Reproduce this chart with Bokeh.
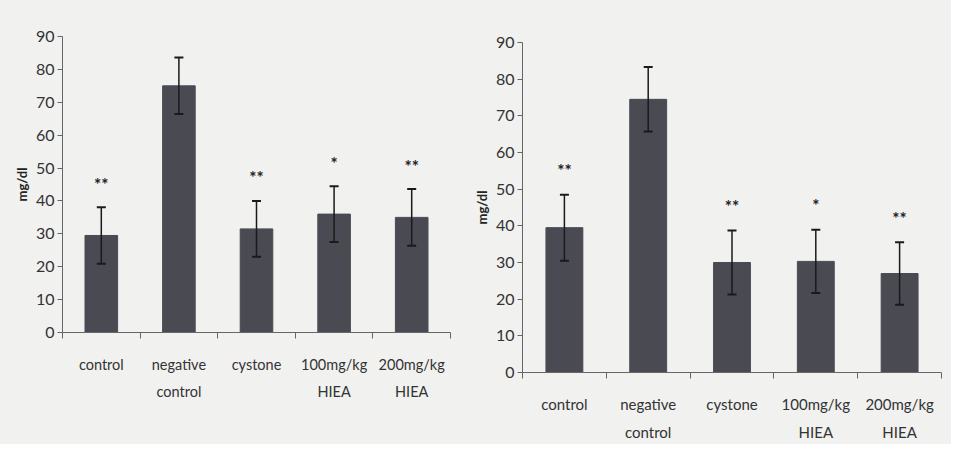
from bokeh.plotting import figure
from bokeh.models import ColumnDataSource, FixedTicker, Whisker, TeeHead, Range1d
from bokeh.layouts import row, column
from bokeh.embed import file_html
from bokeh.resources import INLINE
from bokeh.core.properties import value

categories = ["control", "negative\ncontrol", "cystone", "100mg/kg\nHIEA", "200mg/kg\nHIEA"]

left_means = [29.5, 75.0, 31.5, 36.0, 35.0]
left_err = [8.6, 8.6, 8.5, 8.5, 8.6]
left_stars = ["**", "", "**", "*", "**"]

right_means = [39.5, 74.5, 30.0, 30.3, 27.0]
right_err = [9.0, 8.8, 8.7, 8.6, 8.5]
right_stars = ["**", "", "**", "*", "**"]

y_ticks = [0, 10, 20, 30, 40, 50, 60, 70, 80, 90]

FONT = "Lato"
BG = "#f1f1f0"
BAR = "#4a4a52"
TXT = "#333333"


def make_panel(means, err, stars, width, height, bl, br, bt, bb, fs, xfs, bar_w, star_off, lab_standoff):
    n = len(categories)
    xs = [i + 0.5 for i in range(n)]
    src = ColumnDataSource(dict(
        x=xs, top=means,
        upper=[m + e for m, e in zip(means, err)],
        lower=[m - e for m, e in zip(means, err)],
        stars=stars,
    ))
    p = figure(frame_width=width - bl - br, frame_height=height - bt - bb,
               output_backend="svg", toolbar_location=None,
               x_range=Range1d(0, n), y_range=Range1d(0, 90),
               min_border_left=bl, min_border_right=br, min_border_top=bt, min_border_bottom=bb,
               background_fill_color=BG, border_fill_color=BG)
    p.outline_line_color = None
    p.grid.visible = False

    p.vbar(x="x", top="top", bottom=0, width=bar_w, source=src,
           fill_color=BAR, line_color=BAR)
    w = Whisker(base="x", upper="upper", lower="lower", source=src,
                line_color="#1a1a1a", line_width=1.5, level="overlay",
                upper_head=TeeHead(size=9, line_color="#1a1a1a", line_width=2),
                lower_head=TeeHead(size=9, line_color="#1a1a1a", line_width=2))
    p.add_layout(w)
    p.text(x="x", y="upper", text="stars", source=src, y_offset=-star_off,
           text_align="center", text_baseline="middle", text_color="#222222",
           text_font=value(FONT), text_font_size="17px", text_font_style="bold")

    xa = p.xaxis[0]
    xa.ticker = FixedTicker(ticks=xs, minor_ticks=list(range(n + 1)))
    xa.major_label_overrides = {x: c for x, c in zip(xs, categories)}
    xa.major_tick_out = 0
    xa.major_tick_in = 0
    xa.minor_tick_out = 6
    xa.minor_tick_in = 0
    xa.minor_tick_line_color = "#666666"
    xa.axis_line_color = "#666666"
    xa.major_label_text_font = FONT
    xa.major_label_text_font_size = xfs
    xa.major_label_text_color = TXT
    xa.major_label_standoff = lab_standoff
    xa.major_label_text_line_height = 1.6

    ya = p.yaxis[0]
    ya.ticker = FixedTicker(ticks=y_ticks)
    ya.minor_tick_line_color = None
    ya.major_tick_out = 5
    ya.major_tick_in = 0
    ya.major_tick_line_color = "#666666"
    ya.axis_line_color = "#666666"
    ya.major_label_text_font = FONT
    ya.major_label_text_font_size = fs
    ya.major_label_text_color = TXT
    ya.major_label_standoff = 3
    ya.axis_label = "mg/dl"
    ya.axis_label_text_font = FONT
    ya.axis_label_text_font_size = "13px"
    ya.axis_label_text_font_style = "bold"
    ya.axis_label_text_color = "#222222"
    ya.axis_label_standoff = 3
    return p


left = make_panel(left_means, left_err, left_stars, 470, 440, 62, 20, 36, 108, "16px", "14.5px", 0.42, 23, 17)
right = make_panel(right_means, right_err, right_stars, 472, 440, 43, 10, 42, 68, "16px", "15px", 0.44, 24, 16)

layout = row(column(left), column(right), spacing=0)
layout.styles = {"background-color": BG}

open("out.html", "w").write(file_html(layout, INLINE))
